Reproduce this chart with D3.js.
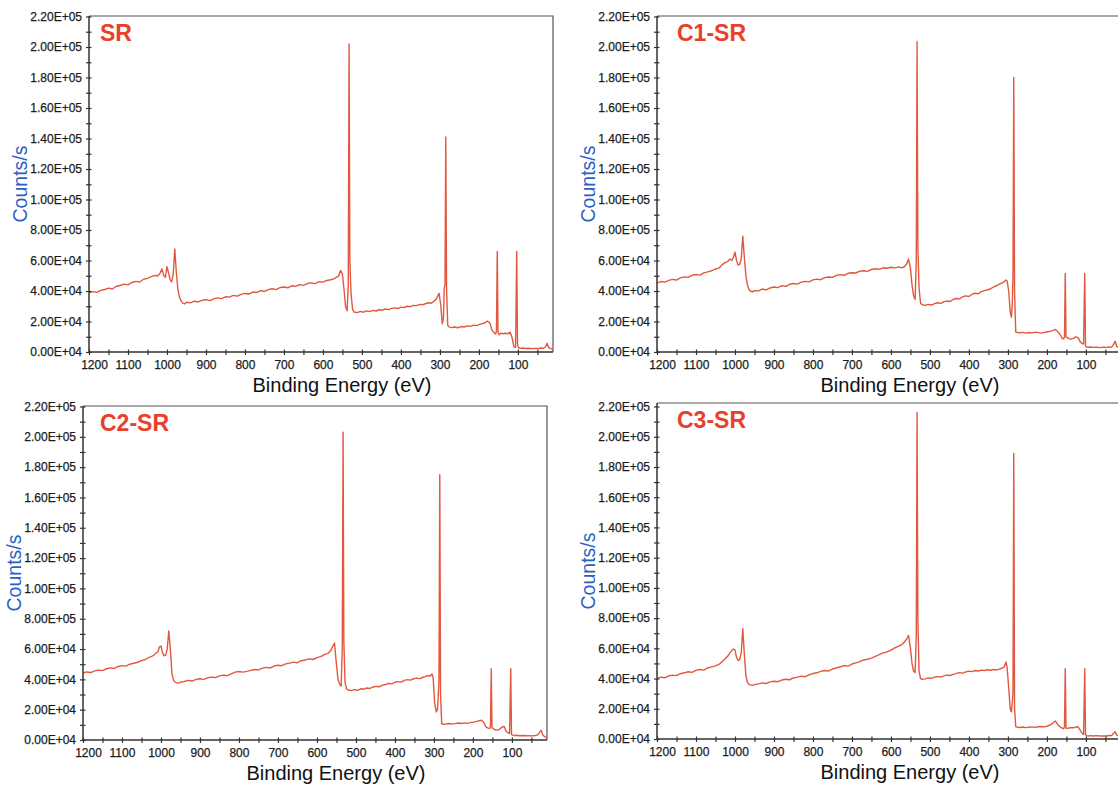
<!DOCTYPE html>
<html><head><meta charset="utf-8">
<script src="https://cdn.jsdelivr.net/npm/d3@7"></script>
<style>body{margin:0;background:#fff}svg{display:block}</style>
</head><body>
<svg id="chart" width="1118" height="789"></svg>
<script>
// ---- data ----
const energies = [
1200,1190,1180,1170,1160,1150,1140,1130,1120,1110,1100,1090,1080,1070,1060,1050,1040,1032,1024,
1018,1013,1008,1004,1000,996,992,988,984,980,976,972,968,964,960,955,950,
940,930,920,910,900,890,880,870,860,850,840,830,820,810,800,790,780,770,760,750,740,730,720,710,700,690,680,670,660,650,640,630,620,610,600,590,580,
572,566,560,555,550,546,542,538,535,533,531,528,524,520,
512,504,496,488,480,472,464,456,448,440,432,424,416,408,400,392,384,376,368,360,352,344,336,328,
322,316,310,305,302,298,294,291,289,287,285,283,280,276,
270,262,254,246,238,230,222,214,206,198,190,184,178,172,166,161,157,155,153,151,148,144,138,132,126,120,115,110,106,103,101,98,94,88,80,72,64,56,48,40,34,29,25,21,16,10];

const srCounts = [
38800,39600,39100,40400,41000,41900,41300,43100,43600,44500,44000,45600,46300,45900,47700,48300,49400,50200,49800,
51500,54500,50000,49000,56000,52000,47500,46000,51000,67500,52000,41000,36000,33500,32200,31500,32600,
32200,33400,32800,33900,34300,33700,34800,35500,35000,36200,36000,37100,36600,37800,38400,38000,39300,39000,40200,39700,40900,41500,40900,42300,42600,42100,43400,43000,44200,43700,44900,45300,44800,46100,45800,46900,47400,
48000,48900,49800,53500,51000,41000,30000,27000,45000,202000,60000,38500,28000,26200,
25800,26600,26100,27000,26500,27300,26900,27700,27400,28200,27800,28600,28900,28500,29400,29100,30000,29700,30600,30400,31200,31000,31800,32300,
32000,33200,34500,37000,38500,31000,18500,22000,42000,43500,141000,42000,17500,16300,
16000,16400,15900,16700,16400,17100,16800,17600,17300,18100,18700,19300,20300,19000,14000,12600,11800,14000,66000,13000,11200,12400,12000,12300,12000,13000,9500,3200,3000,66000,5000,2800,2400,2600,2300,2500,2200,2400,2300,2600,2400,3500,5700,2800,2200,1800];

const c1Counts = [
45300,46200,45800,47000,47600,47200,48600,49300,48900,50300,50800,50400,51900,52500,53300,54400,55200,57500,58800,
59500,61000,60000,62000,65500,60000,57000,57500,61000,76000,62000,50000,44000,41000,39800,39500,40200,
40100,41300,40700,42000,42600,42200,43500,43100,44400,44900,44500,45800,46300,46000,47300,47800,47400,48800,49200,48900,50200,50700,50300,51600,52000,51800,53000,53300,52900,54100,54600,54200,55200,54900,55600,55200,55800,
55200,55900,57500,61000,55000,44000,37000,34500,60000,203500,70000,42000,32000,31000,
30600,31200,30800,31700,32300,31900,33000,33400,33100,34600,35100,34800,36200,36800,36400,37900,38500,38200,39600,40200,40800,41500,42800,43600,
44500,45200,46000,47200,46500,40000,26000,22800,30000,50000,180000,40000,13200,12800,
12600,12900,12400,12800,12500,13000,12700,12400,12900,13300,13700,14200,14800,13200,11500,9000,8600,10000,51500,9800,9600,8800,8400,8900,9900,9400,6800,5600,5200,51500,4000,3300,3100,3300,3000,3200,2900,3100,3000,3300,3200,5000,7000,3600,3000,2700];

const c2Counts = [
44200,44900,44500,45600,46100,45800,47000,47600,47200,48500,49100,48700,50000,50600,51300,52400,53100,54300,55200,
56000,57500,58000,61500,62000,57500,55500,56000,60000,72000,60000,44000,39500,38200,37800,37500,38200,
38600,39300,38900,40000,40400,40000,41100,41500,41200,42300,42800,42400,43600,44800,45200,44800,45300,45900,46500,46200,47400,47900,47500,48800,49300,49000,50200,50700,51400,51000,52300,52800,53500,53100,54300,55000,56500,
57000,58500,61500,64000,50000,40000,37000,35500,60000,203000,65000,38000,33500,33000,
32600,33200,32800,33800,33500,34300,34000,35000,35400,35100,36200,36600,37300,37000,38100,38500,38200,39300,39800,39500,40400,40800,40500,41400,
41800,42500,42200,43500,41000,24000,18500,20000,28000,40000,175000,30000,10800,10400,
10500,10900,10600,10800,11200,10900,11300,11000,11500,11800,12300,12800,13000,11500,8500,7800,7600,9000,47000,8000,7600,6800,6500,7000,8400,9000,5800,4800,4200,47000,3600,3200,3000,3100,2800,3000,2800,2900,2700,3000,3400,5000,6400,3500,2200,1500];

const c3Counts = [
40200,40900,40500,41700,42300,41900,43200,43800,44500,44100,45400,46000,45600,47000,47700,48400,49500,51500,53500,
55000,57000,58500,59500,59000,54000,52000,52500,57000,73000,56000,42000,37500,36200,35800,35500,36000,
36500,37100,36700,37800,38200,37900,39000,39500,39200,40400,40900,41600,41200,42500,43300,43800,44700,45300,45000,46300,47000,47800,48600,48200,49600,50400,51200,52300,52800,53500,54700,55800,57000,57600,58800,60300,61500,
62500,64000,66000,68500,60000,50000,45000,44000,70000,216000,80000,45000,40000,39500,
39800,40400,40100,40900,41300,41000,41800,42300,42000,42800,43400,43900,43600,44400,44900,44600,45300,45000,45600,45300,45800,45500,46000,45700,
46200,46800,47500,51000,47000,34000,19500,18000,24000,30000,189000,20000,8200,7800,
7600,7900,7500,7800,8000,7700,8100,8300,8000,8600,9500,10800,11900,9500,8000,7200,6800,8000,46500,7200,7000,7300,7500,7400,7900,8100,6000,3800,3000,46500,2800,2200,2000,2200,2000,2200,2000,2100,2000,2300,2200,3800,4800,2600,2000,1700];

const panelTitles = ["SR", "C1-SR", "C2-SR", "C3-SR"];
const xTickValues = [1200,1100,1000,900,800,700,600,500,400,300,200,100];
const xTickLabels = ["1200","1100","1000","900","800","700","600","500","400","300","200","100"];
const xMinorTicks = [1150,1050,950,850,750,650,550,450,350,250,150,50];
const yTickValues = [0,20000,40000,60000,80000,100000,120000,140000,160000,180000,200000,220000];
const yTickLabels = ["0.00E+04","2.00E+04","4.00E+04","6.00E+04","8.00E+05","1.00E+05","1.20E+05","1.40E+05","1.60E+05","1.80E+05","2.00E+05","2.20E+05"];
const yMinorTicks = [10000,30000,50000,70000,90000,110000,130000,150000,170000,190000,210000];
const xAxisTitle = "Binding Energy (eV)";
const yAxisTitle = "Counts/s";
const xDomain = [1200, 10];
const yDomain = [0, 220000];

// ---- layout ----
const series = [srCounts, c1Counts, c2Counts, c3Counts];
const panels = [
  {left: 89,  y0: 352, yTop: 16.5, frameTop: 16,  titleDx: 11},
  {left: 657, y0: 352, yTop: 16.5, frameTop: 16,  titleDx: 20},
  {left: 83,  y0: 740, yTop: 406.5, frameTop: 406, titleDx: 17},
  {left: 657, y0: 739, yTop: 406.5, frameTop: 403, titleDx: 20}
];
const plotW = 464;
const FONT = "'Liberation Sans', Arial, Helvetica, sans-serif";
const lineColor = "#e2583e";

const svg = d3.select("#chart");
svg.append("rect").attr("width",1118).attr("height",789).attr("fill","#fff");

panels.forEach((p, i) => {
  const x = d3.scaleLinear().domain(xDomain).range([p.left, p.left + plotW]);
  const y = d3.scaleLinear().domain(yDomain).range([p.y0, p.yTop]);
  const g = svg.append("g");

  const clipId = "clip" + i;
  svg.append("clipPath").attr("id", clipId).append("rect")
    .attr("x", p.left).attr("y", p.frameTop).attr("width", plotW).attr("height", p.y0 - p.frameTop);

  // frame (top & right)
  g.append("path")
    .attr("d", `M${p.left},${p.frameTop}H${p.left + plotW}V${p.y0}`)
    .attr("fill","none").attr("stroke","#555").attr("stroke-width",1.2);

  // spectrum
  const pts = energies.map((e, k) => [e, series[i][k]]);
  g.append("path").datum(pts)
    .attr("clip-path", `url(#${clipId})`)
    .attr("fill","none").attr("stroke", lineColor).attr("stroke-width",1.4)
    .attr("stroke-linejoin","round")
    .attr("d", d3.line().x(d => x(d[0])).y(d => y(d[1])));

  // x axis
  const xa = g.append("g").attr("transform", `translate(0,${p.y0})`)
    .call(d3.axisBottom(x).tickValues(xTickValues).tickFormat((d, k) => xTickLabels[k]).tickSize(3).tickPadding(5));
  const xm = g.append("g").attr("transform", `translate(0,${p.y0})`)
    .call(d3.axisBottom(x).tickValues(xMinorTicks).tickFormat("").tickSize(3));
  // y axis
  const ya = g.append("g").attr("transform", `translate(${p.left},0)`)
    .call(d3.axisLeft(y).tickValues(yTickValues).tickFormat((d, k) => yTickLabels[k]).tickSize(3).tickPadding(4));
  const ym = g.append("g").attr("transform", `translate(${p.left},0)`)
    .call(d3.axisLeft(y).tickValues(yMinorTicks).tickFormat("").tickSize(3));

  [xa, xm, ya, ym].forEach(a => {
    a.select(".domain").remove();
    a.selectAll(".tick line").attr("stroke","#333").attr("stroke-width",1.2);
    a.selectAll("text").attr("font-family", FONT).attr("font-size", 12).attr("fill","#1c1c1c")
      .attr("stroke","#1c1c1c").attr("stroke-width",0.25);
  });
  xa.selectAll(".tick line").attr("y1", -2.5);
  xm.selectAll(".tick line").attr("y1", -2.5);
  ya.selectAll(".tick line").attr("x1", 2.5);
  ym.selectAll(".tick line").attr("x1", 2.5);
  xa.selectAll(".tick text").filter((d, k) => k === 0).attr("dx", 5);

  // axis lines
  g.append("path")
    .attr("d", `M${p.left},${p.frameTop}V${p.y0}H${p.left + plotW}`)
    .attr("fill","none").attr("stroke","#333").attr("stroke-width",1.5);

  // titles
  g.append("text").attr("x", p.left + 253).attr("y", p.y0 + 40)
    .attr("text-anchor","middle").attr("font-family", FONT).attr("font-size", 20).attr("fill","#111")
    .text(xAxisTitle);
  g.append("text")
    .attr("transform", `translate(${p.left - 69},${(p.y0 + p.frameTop) / 2}) rotate(-90)`)
    .attr("text-anchor","middle").attr("dominant-baseline","central")
    .attr("font-family", FONT).attr("font-size", 19.5).attr("fill","#2a62c4")
    .text(yAxisTitle);
  g.append("text").attr("x", p.left + p.titleDx).attr("y", p.frameTop + 24.5)
    .attr("font-family", FONT).attr("font-size", 23).attr("font-weight","bold").attr("fill","#e8402a")
    .text(panelTitles[i]);
});
</script>
</body></html>
